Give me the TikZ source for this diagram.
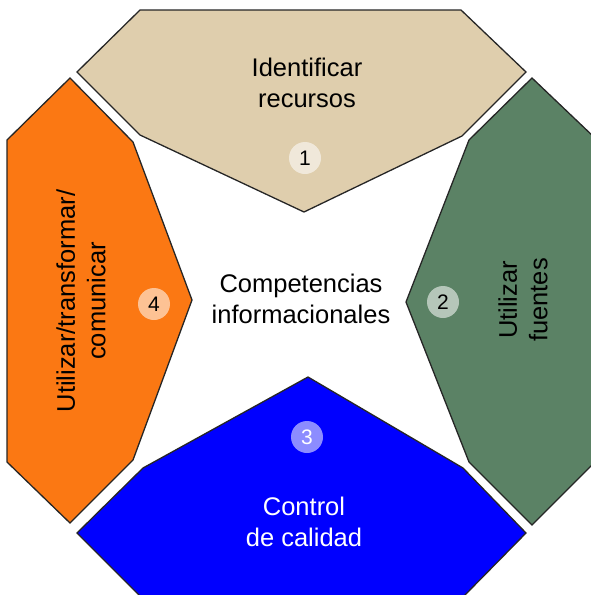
\documentclass[tikz,border=0pt]{standalone}
\usepackage{fontspec}
\setmainfont{Liberation Sans}
\usepackage{tikz}
\usetikzlibrary{positioning}
\definecolor{recursotan}{HTML}{DFCEAD}
\definecolor{fuentegreen}{HTML}{5B8265}
\definecolor{calidadblue}{HTML}{0000FF}
\definecolor{usoorange}{HTML}{FB7813}

\begin{document}
\begin{tikzpicture}[
    x=1pt, y=-1pt,
    every node/.style={font=\fontsize{25.5}{30.5}\selectfont, align=center},
    segment/.style={
        draw=black!85,
        line width=1.3pt,
        line join=miter
    },
    badge/.style={
        circle,
        fill=white,
        fill opacity=0.55,
        text opacity=1,
        minimum size=32pt,
        inner sep=0pt,
        font=\fontsize{21}{21}\selectfont
    }
]
    \useasboundingbox (0,0) rectangle (591,595);
    \clip (0,0) rectangle (591,595);

    % === SEGMENT 1 (top) ===
    \draw[segment, fill=recursotan]
        (140,10) -- (461,10) -- (526,72) -- (462,136) -- (304,212) -- (140,135) -- (77,72) -- cycle;
    \node (identificar) at (307,83) {Identificar\\recursos};
    \node[badge] (num1) at (305,158) {1};

    % === SEGMENT 2 (right) ===
    \draw[segment, fill=fuentegreen]
        (532,78) -- (595,138) -- (595,462) -- (532,525) -- (469,462) -- (406,302) -- (469,140) -- cycle;
    \node[rotate=90] (fuentes) at (523,300) {Utilizar\\fuentes};
    \node[badge] (num2) at (443,302) {2};

    % === SEGMENT 3 (bottom) ===
    \draw[segment, fill=calidadblue]
        (308,377) -- (463,468) -- (526,533) -- (464,596) -- (140,596) -- (77,533) -- (143,468) -- cycle;
    \node[white] (control) at (304,522) {Control\\de calidad};
    \node[badge, text=white] (num3) at (307,437) {3};

    % === SEGMENT 4 (left) ===
    \draw[segment, fill=usoorange]
        (70,78) -- (133,142) -- (192,300) -- (133,460) -- (70,523) -- (7,462) -- (7,140) -- cycle;
    \node[rotate=90] (utilizar) at (81,301) {Utilizar/transformar/\\comunicar};
    \node[badge] (num4) at (154,304) {4};

    % Centre label
    \node (centro) at (301,299) {Competencias\\informacionales};
\end{tikzpicture}
\end{document}
